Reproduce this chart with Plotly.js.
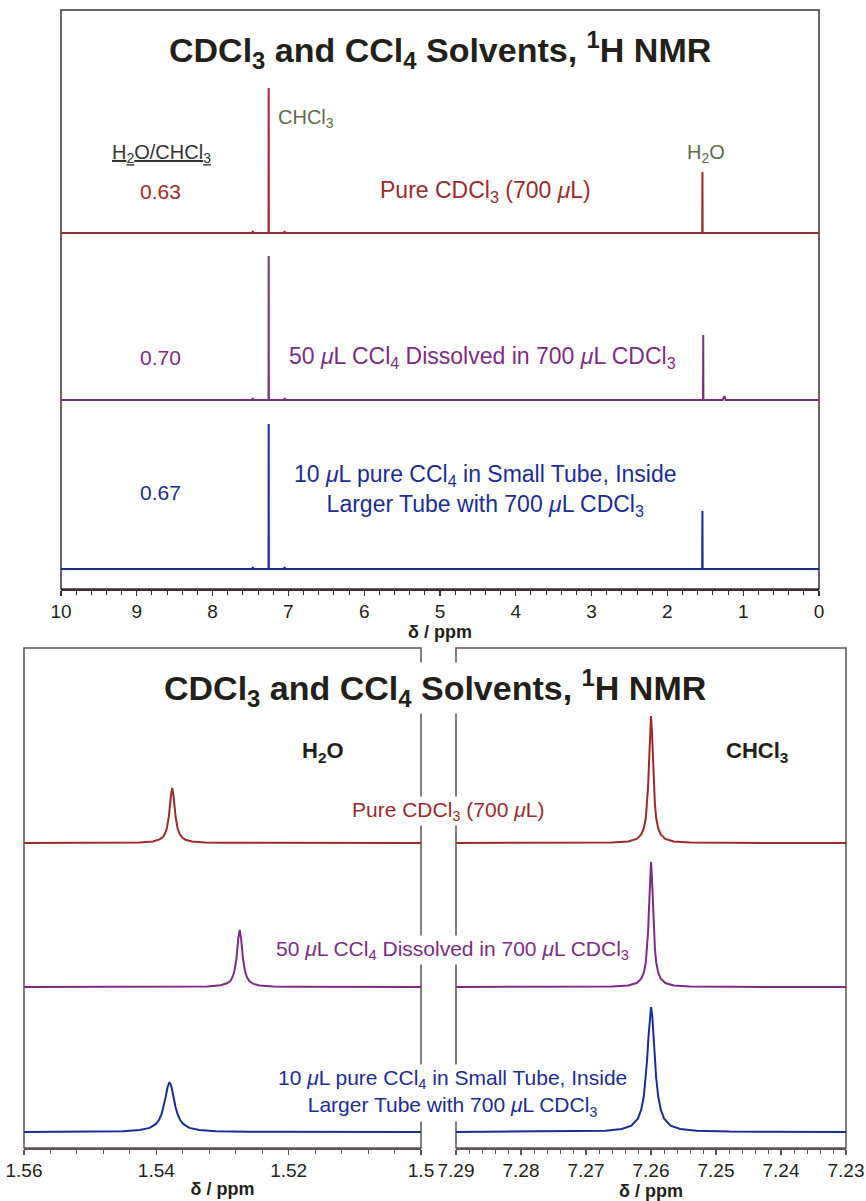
<!DOCTYPE html>
<html>
<head>
<meta charset="utf-8">
<script src="https://cdn.plot.ly/plotly-3.0.1.min.js"></script>
<style>html,body{margin:0;padding:0;background:#fff;}#chart{width:866px;height:1201px;}</style>
</head>
<body>
<div id="chart"></div>
<script>
// ---------- DATA ----------
// Top panel: full 1H spectra, delta 10 -> 0 ppm (intensity in arbitrary units)
const fullPpmRed    = [10, 7.48, 7.47, 7.46, 7.262, 7.26, 7.258, 7.06, 7.05, 7.04, 1.540, 1.5376, 1.535, 0];
const fullIntRed    = [0, 0, 2, 0, 0, 145, 0, 0, 2, 0, 0, 61, 0, 0];
const fullPpmPurple = [10, 7.48, 7.47, 7.46, 7.262, 7.26, 7.258, 7.06, 7.05, 7.04, 1.530, 1.5274, 1.525, 1.27, 1.25, 1.23, 0];
const fullIntPurple = [0, 0, 2, 0, 0, 144, 0, 0, 2, 0, 0, 65, 0, 0, 4, 0, 0];
const fullPpmBlue   = [10, 7.48, 7.47, 7.46, 7.262, 7.26, 7.258, 7.06, 7.05, 7.04, 1.541, 1.538, 1.535, 0];
const fullIntBlue   = [0, 0, 2, 0, 0, 145, 0, 0, 2, 0, 0, 58, 0, 0];

// Bottom panel, left: H2O region (1.56 -> 1.50 ppm)
const h2oPpmRed    = [1.56, 1.55, 1.545, 1.5425, 1.5405, 1.5395, 1.539, 1.5387, 1.5384, 1.5381, 1.5378, 1.5376, 1.5374, 1.5371, 1.5368, 1.5365, 1.5361, 1.5356, 1.5346, 1.5326, 1.530, 1.52, 1.50];
const h2oIntRed    = [0, 0.1, 0.3, 0.6, 1.6, 3.6, 6, 9.5, 15, 27, 47, 55, 47, 27, 15, 9.5, 5.5, 3.2, 1.5, 0.5, 0.2, 0, 0];
const h2oPpmPurple = [1.56, 1.54, 1.535, 1.5323, 1.5303, 1.5293, 1.5288, 1.5285, 1.5282, 1.5279, 1.5276, 1.5274, 1.5272, 1.5269, 1.5266, 1.5263, 1.5259, 1.5254, 1.5244, 1.5224, 1.52, 1.51, 1.50];
const h2oIntPurple = [0, 0.1, 0.3, 0.6, 1.7, 3.7, 6.2, 9.8, 16, 28, 49, 57, 49, 28, 16, 9.8, 5.7, 3.3, 1.6, 0.5, 0.2, 0, 0];
const h2oPpmBlue   = [1.56, 1.55, 1.545, 1.5425, 1.541, 1.5401, 1.5396, 1.5392, 1.5389, 1.5386, 1.5383, 1.538, 1.5377, 1.5374, 1.5371, 1.5368, 1.5364, 1.5359, 1.535, 1.5335, 1.531, 1.526, 1.50];
const h2oIntBlue   = [0.1, 0.3, 0.8, 1.9, 4.1, 7.8, 12, 18, 25, 34.6, 45, 50, 45, 34.6, 25, 18, 12, 7.8, 4.1, 1.9, 0.8, 0.3, 0];

// Bottom panel, right: CHCl3 region (7.29 -> 7.23 ppm)
const chclPpmRed    = [7.29, 7.272, 7.266, 7.2635, 7.2622, 7.2615, 7.2611, 7.2608, 7.2606, 7.26045, 7.2603, 7.26015, 7.26, 7.25985, 7.2597, 7.25955, 7.2594, 7.2592, 7.2589, 7.2585, 7.2578, 7.2565, 7.254, 7.248, 7.23];
const chclIntRed    = [0, 0.14, 0.56, 1.6, 4.1, 8.5, 14.8, 25, 39, 56, 81, 111, 127, 111, 81, 56, 39, 25, 14.8, 8.5, 4.1, 1.6, 0.56, 0.14, 0];
const chclPpmPurple = [7.29, 7.272, 7.266, 7.2635, 7.2622, 7.2615, 7.2611, 7.2608, 7.2606, 7.26045, 7.2603, 7.26015, 7.26, 7.25985, 7.2597, 7.25955, 7.2594, 7.2592, 7.2589, 7.2585, 7.2578, 7.2565, 7.254, 7.248, 7.23];
const chclIntPurple = [0, 0.14, 0.55, 1.6, 4, 8.4, 14.6, 24.6, 38.4, 55, 80, 109, 125, 109, 80, 55, 38.4, 24.6, 14.6, 8.4, 4, 1.6, 0.55, 0.14, 0];
const chclPpmBlue   = [7.29, 7.272, 7.267, 7.2645, 7.263, 7.262, 7.2615, 7.2611, 7.2608, 7.2606, 7.2604, 7.2602, 7.26, 7.2598, 7.2596, 7.2594, 7.2592, 7.2589, 7.2585, 7.258, 7.257, 7.2555, 7.253, 7.248, 7.23];
const chclIntBlue   = [0.07, 0.42, 1.24, 3, 6.4, 13.6, 22.4, 36, 54, 72, 94, 115.6, 125, 115.6, 94, 72, 54, 36, 22.4, 13.6, 6.4, 3, 1.24, 0.42, 0.07];

// Labels
const ratioHeader = '<u>H<sub>2</sub>O/CHCl<sub>3</sub></u>';
const ratios = ['0.63', '0.70', '0.67'];
const sampleLabels = [
  'Pure CDCl<sub>3</sub> (700 <i>μ</i>L)',
  '50 <i>μ</i>L CCl<sub>4</sub> Dissolved in 700 <i>μ</i>L CDCl<sub>3</sub>',
  '10 <i>μ</i>L pure CCl<sub>4</sub> in Small Tube, Inside<br>Larger Tube with 700 <i>μ</i>L CDCl<sub>3</sub>'
];
const chartTitle = '<b>CDCl<sub>3</sub> and CCl<sub>4</sub> Solvents, <sup>1</sup>H NMR</b>';
const axisLabel = '<b>δ / ppm</b>';

// ---------- STYLE / LAYOUT ----------
const W = 866, H = 1201;
const fx = p => p / W;
const fy = p => 1 - p / H;
const FONT = 'Liberation Sans, Arial, Helvetica, sans-serif';
const RED = '#9c2a2c', PURPLE = '#7d2c84', BLUE = '#1d2c94';
const OLIVE = '#5f6b4c', INK = '#231f1a';

function tr(x, y, xa, ya, c) {
  return {type: 'scatter', mode: 'lines', x: x, y: y, xaxis: xa, yaxis: ya,
          line: {color: c, width: 2}, hoverinfo: 'skip', cliponaxis: true};
}

const traces = [
  tr(fullPpmRed, fullIntRed, 'x', 'y', RED),
  tr(fullPpmPurple, fullIntPurple, 'x', 'y2', PURPLE),
  tr(fullPpmBlue, fullIntBlue, 'x', 'y3', BLUE),
  tr(h2oPpmRed, h2oIntRed, 'x2', 'y4', RED),
  tr(chclPpmRed, chclIntRed, 'x3', 'y4', RED),
  tr(h2oPpmPurple, h2oIntPurple, 'x2', 'y5', PURPLE),
  tr(chclPpmPurple, chclIntPurple, 'x3', 'y5', PURPLE),
  tr(h2oPpmBlue, h2oIntBlue, 'x2', 'y6', BLUE),
  tr(chclPpmBlue, chclIntBlue, 'x3', 'y6', BLUE)
];

function xax(d0, d1, range, pos, dtick, tick0, minorDtick, lc) {
  return {
    domain: [fx(d0), fx(d1)], range: range, anchor: 'free', position: fy(pos),
    showline: true, linecolor: lc, linewidth: 1.5, mirror: false,
    ticks: 'outside', ticklen: 5, tickwidth: 1.2, tickcolor: lc,
    dtick: dtick, tick0: tick0,
    minor: {dtick: minorDtick, tick0: tick0, ticks: 'outside', ticklen: 4, tickwidth: 1, tickcolor: lc, showgrid: false},
    tickfont: {family: FONT, size: 19, color: INK},
    showgrid: false, zeroline: false, fixedrange: true,
    title: {text: axisLabel, font: {family: FONT, size: 18, color: INK}, standoff: 2}
  };
}
function yax(bottomPx, topPx, range, anchor) {
  return {domain: [fy(bottomPx), fy(topPx)], range: range, visible: false, anchor: anchor, fixedrange: true};
}

function ann(x, y, text, size, color, extra) {
  return Object.assign({xref: 'paper', yref: 'paper', x: fx(x), y: fy(y), text: text, showarrow: false,
    xanchor: 'center', yanchor: 'middle', font: {family: FONT, size: size, color: color}}, extra || {});
}

const TOPF = '#3a3030', BOTF = '#5d5353';

const annotations = [
  // top panel
  ann(440, 50, chartTitle, 34, INK),
  ann(276, 118, 'CHCl<sub>3</sub>', 20, OLIVE, {xanchor: 'left'}),
  ann(706, 153, 'H<sub>2</sub>O', 20, OLIVE),
  ann(161, 153, ratioHeader, 20, '#333'),
  ann(160, 192, ratios[0], 21, RED),
  ann(485, 192, sampleLabels[0], 23, RED),
  ann(160, 357, ratios[1], 21, PURPLE),
  ann(482, 357, sampleLabels[1], 23, PURPLE),
  ann(160, 492, ratios[2], 21, BLUE),
  ann(485, 490, sampleLabels[2], 23, BLUE),
  // bottom panel
  ann(435, 688, chartTitle, 34, INK, {bgcolor: '#fff'}),
  ann(323, 752, '<b>H<sub>2</sub>O</b>', 22, INK),
  ann(757, 752, '<b>CHCl<sub>3</sub></b>', 22, INK),
  ann(448, 811, sampleLabels[0], 21, RED, {bgcolor: '#fff'}),
  ann(452, 950, sampleLabels[1], 21, PURPLE, {bgcolor: '#fff'}),
  ann(452, 1093, sampleLabels[2], 21, BLUE, {bgcolor: '#fff'})
];

function rect(x0, y0, x1, y1, c) {
  return {type: 'rect', xref: 'paper', yref: 'paper', x0: fx(x0), x1: fx(x1), y0: fy(y1), y1: fy(y0),
          line: {color: c, width: 1.5}, fillcolor: 'rgba(0,0,0,0)', layer: 'below'};
}

const layout = {
  width: W, height: H, margin: {l: 0, r: 0, t: 0, b: 0},
  paper_bgcolor: '#fff', plot_bgcolor: 'rgba(0,0,0,0)', showlegend: false,
  font: {family: FONT, color: INK},
  xaxis: xax(61, 819, [10, 0], 589, 1, 0, 0.2, TOPF),
  xaxis2: xax(24, 421, [1.56, 1.50], 1148, 0.02, 1.5, 0.004, BOTF),
  xaxis3: xax(456, 846, [7.29, 7.23], 1148, 0.01, 7.23, 0.002, BOTF),
  yaxis:  yax(241, 83, [-8, 150], 'x'),
  yaxis2: yax(408, 250, [-8, 150], 'x'),
  yaxis3: yax(577, 419, [-8, 150], 'x'),
  yaxis4: yax(851, 703, [-8, 140], 'x2'),
  yaxis5: yax(995, 847, [-8, 140], 'x2'),
  yaxis6: yax(1140, 992, [-8, 140], 'x2'),
  shapes: [rect(61, 10, 819, 589, TOPF), rect(24, 648, 421, 1148, BOTF), rect(456, 648, 846, 1148, BOTF)],
  annotations: annotations
};

Plotly.newPlot('chart', traces, layout, {staticPlot: true, displayModeBar: false});
</script>
</body>
</html>
